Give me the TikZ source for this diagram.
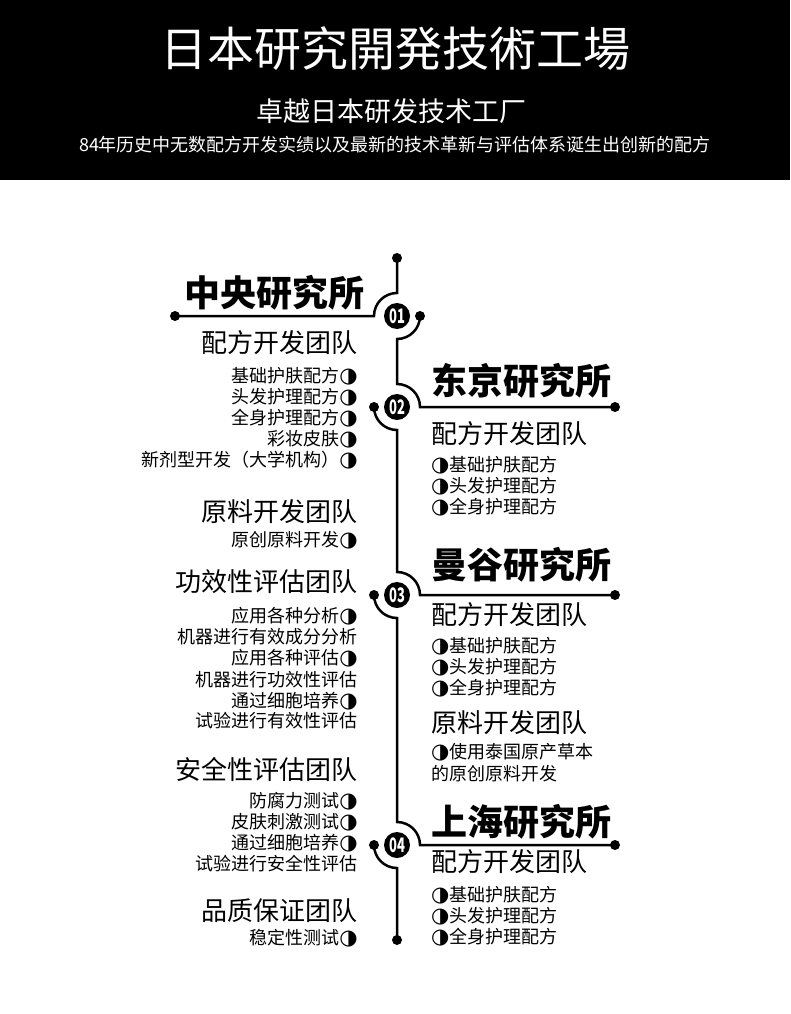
\documentclass[tikz,border=0pt]{standalone}
\usepackage{fontspec}
\setmainfont{Noto Sans CJK SC}
\newfontfamily\djfont{DejaVu Sans}
\newcommand\halfc{{\djfont\fontsize{21}{21}\selectfont ◑}}
\begin{document}
\begin{tikzpicture}[x=1pt,y=-1pt,
  tl/.style={line width=2.5pt},
  dot/.style={circle,fill=black,minimum size=10pt,inner sep=0pt},
  badge/.style={circle,fill=black,minimum size=26pt,inner sep=0pt,text=white,font=\fontsize{20}{20}\selectfont\bfseries},
  lft/.style={anchor=east,inner sep=0pt,font=\fontsize{18}{18}\selectfont},
  rgt/.style={anchor=west,inner sep=0pt,font=\fontsize{18}{18}\selectfont},
  lhead/.style={anchor=east,inner sep=0pt,font=\fontsize{26}{26}\selectfont},
  rhead/.style={anchor=west,inner sep=0pt,font=\fontsize{26}{26}\selectfont},
  ltitle/.style={anchor=east,inner sep=0pt,font=\fontsize{36}{36}\selectfont\bfseries},
  rtitle/.style={anchor=west,inner sep=0pt,font=\fontsize{36}{36}\selectfont\bfseries},
  hdr/.style={text=white,inner sep=0pt}]
\useasboundingbox (0,0) rectangle (790,1014);
% header
\fill[black] (0,0) rectangle (790,180);
\node[hdr,font=\fontsize{47}{47}\selectfont] (h1) at (395,49) {日本研究開発技術工場};
\node[hdr,font=\fontsize{27}{27}\selectfont] (h2) at (391,111) {卓越日本研发技术工厂};
\node[hdr,font=\fontsize{18}{18}\selectfont] (h3) at (395,145) {84年历史中无数配方开发实绩以及最新的技术革新与评估体系诞生出创新的配方};
% dots
\node[dot] (d0) at (397,258) {};
\node[dot] (dB) at (397,940) {};
\node[dot] (dL1) at (175,316) {};
\node[dot] (dR1) at (420,316) {};
\node[dot] (dL2) at (374,407) {};
\node[dot] (dR2) at (615,407) {};
\node[dot] (dL3) at (374,595) {};
\node[dot] (dR3) at (615,595) {};
\node[dot] (dL4) at (374,845) {};
\node[dot] (dR4) at (615,845) {};
% timeline
\draw[tl] (d0.center) -- (397,293) arc[start angle=-90,end angle=-180,radius=23] -- (dL1.center);
\draw[tl] (dR1.center) arc[start angle=0,end angle=90,radius=23] -- (397,384) arc[start angle=-90,end angle=0,radius=23] -- (dR2.center);
\draw[tl] (dL2.center) arc[start angle=180,end angle=90,radius=23] -- (397,572) arc[start angle=-90,end angle=0,radius=23] -- (dR3.center);
\draw[tl] (dL3.center) arc[start angle=180,end angle=90,radius=23] -- (397,822) arc[start angle=-90,end angle=0,radius=23] -- (dR4.center);
\draw[tl] (dL4.center) arc[start angle=180,end angle=90,radius=23] -- (dB.center);
% badges
\node[badge] (b1) at (397,316) {\scalebox{0.65}[1]{01}};
\node[badge] (b2) at (397,407) {\scalebox{0.65}[1]{02}};
\node[badge] (b3) at (397,595) {\scalebox{0.65}[1]{03}};
\node[badge] (b4) at (397,845) {\scalebox{0.65}[1]{04}};
% left column
\node[ltitle] (t1) at (365,293) {中央研究所};
\node[lhead] (l1) at (358,343) {配方开发团队};
\node[lft] (l1a) at (358,376) {基础护肤配方\halfc};
\node[lft] (l1b) at (358,397) {头发护理配方\halfc};
\node[lft] (l1c) at (358,418) {全身护理配方\halfc};
\node[lft] (l1d) at (358,439) {彩妆皮肤\halfc};
\node[lft] (l1e) at (358,460) {新剂型开发（大学机构）\halfc};
\node[lhead] (l2) at (358,512) {原料开发团队};
\node[lft] (l2a) at (358,540) {原创原料开发\halfc};
\node[lhead] (l3) at (358,582) {功效性评估团队};
\node[lft] (l3a) at (358,616) {应用各种分析\halfc};
\node[lft] (l3b) at (358,637) {机器进行有效成分分析};
\node[lft] (l3c) at (358,658) {应用各种评估\halfc};
\node[lft] (l3d) at (358,680) {机器进行功效性评估};
\node[lft] (l3e) at (358,701) {通过细胞培养\halfc};
\node[lft] (l3f) at (358,721) {试验进行有效性评估};
\node[lhead] (l4) at (358,769) {安全性评估团队};
\node[lft] (l4a) at (358,801) {防腐力测试\halfc};
\node[lft] (l4b) at (358,822) {皮肤刺激测试\halfc};
\node[lft] (l4c) at (358,843) {通过细胞培养\halfc};
\node[lft] (l4d) at (358,864) {试验进行安全性评估};
\node[lhead] (l5) at (358,911) {品质保证团队};
\node[lft] (l5a) at (358,938) {稳定性测试\halfc};
% right column
\node[rtitle] (t2) at (431,381) {东京研究所};
\node[rhead] (r2) at (431,434) {配方开发团队};
\node[rgt] (r2a) at (431,465) {\halfc 基础护肤配方};
\node[rgt] (r2b) at (431,486) {\halfc 头发护理配方};
\node[rgt] (r2c) at (431,507) {\halfc 全身护理配方};
\node[rtitle] (t3) at (431,565) {曼谷研究所};
\node[rhead] (r3) at (431,615) {配方开发团队};
\node[rgt] (r3a) at (431,646) {\halfc 基础护肤配方};
\node[rgt] (r3b) at (431,667) {\halfc 头发护理配方};
\node[rgt] (r3c) at (431,688) {\halfc 全身护理配方};
\node[rhead] (r3d) at (431,723) {原料开发团队};
\node[rgt] (r3e) at (431,752) {\halfc 使用泰国原产草本};
\node[rgt] (r3f) at (431,774) {的原创原料开发};
\node[rtitle] (t4) at (431,822) {上海研究所};
\node[rhead] (r4) at (431,862) {配方开发团队};
\node[rgt] (r4a) at (431,895) {\halfc 基础护肤配方};
\node[rgt] (r4b) at (431,916) {\halfc 头发护理配方};
\node[rgt] (r4c) at (431,937) {\halfc 全身护理配方};
\end{tikzpicture}
\end{document}
